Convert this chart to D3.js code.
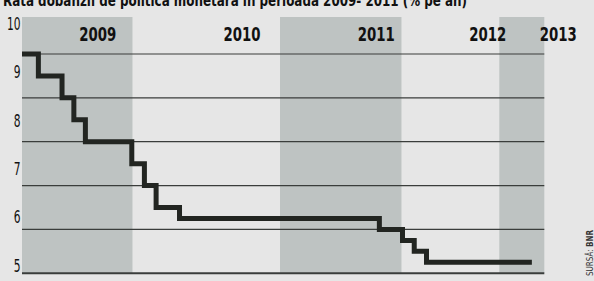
<!DOCTYPE html>
<html>
<head>
<meta charset="utf-8">
<script src="https://cdn.jsdelivr.net/npm/d3@7"></script>
<style>
  html, body { margin: 0; padding: 0; background: #e6e6e6; }
  svg { display: block; font-family: "DejaVu Sans Condensed", "Liberation Sans", sans-serif; }
</style>
</head>
<body>
<div id="chart"></div>
<script>
// rate changes (date of change, % pe an)
const changeDates = ["2009-01-01", "2009-02-24", "2009-05-13", "2009-06-21", "2009-07-29",
  "2009-12-29", "2010-01-30", "2010-02-28", "2010-04-27", "2011-10-26",
  "2012-01-04", "2012-02-17", "2012-04-03", "2013-05-12"];
const rates = [10, 9.5, 9, 8.5, 8, 7.5, 7, 6.5, 6.25, 6, 5.75, 5.5, 5.25, 5.25];

const years = ["2009", "2010", "2011", "2012", "2013"];
const yearLabelDates = ["2009-09-08", "2010-09-29", "2011-10-17", "2012-11-19", "2013-08-26"];
const yTicks = [10, 9, 8, 7, 6, 5];

const width = 594, height = 281;
const parse = d3.timeParse("%Y-%m-%d");

// the year bands are not equally wide in the original
const bandEdges = ["2009-01-01", "2010-01-01", "2011-01-01", "2012-01-01", "2013-01-01", "2013-07-01"].map(parse);
const x = d3.scaleTime()
  .domain(bandEdges)
  .range([22, 132.7, 280, 401.7, 499.3, 544.3]);
const y = d3.scaleLinear().domain([5, 10]).range([273.3, 54]);
// tick labels sit on their own evenly spaced scale
const yLab = d3.scaleLinear().domain([10, 5]).range([30, 271.6]);

const svg = d3.select("#chart").append("svg")
  .attr("width", width).attr("height", height);

svg.append("rect").attr("width", width).attr("height", height).attr("fill", "#e6e6e6");

// title (cut at the top edge, as in the print)
svg.append("text")
  .attr("x", 3).attr("y", 6)
  .attr("font-size", 16).attr("font-weight", "bold")
  .attr("fill", "#111")
  .attr("textLength", 464).attr("lengthAdjust", "spacingAndGlyphs")
  .text("Rata dobânzii de politică monetară în perioada 2009- 2011 (% pe an)");

// year bands
svg.append("g").selectAll("rect")
  .data(years)
  .join("rect")
  .attr("x", (d, i) => x(bandEdges[i]))
  .attr("y", 17)
  .attr("width", (d, i) => x(bandEdges[i + 1]) - x(bandEdges[i]))
  .attr("height", 273.3 - 17)
  .attr("fill", (d, i) => i % 2 === 0 ? "#bec3c2" : "#e6e6e6");

// grid lines
svg.append("g").selectAll("line")
  .data(yTicks)
  .join("line")
  .attr("x1", 22).attr("x2", 544.3)
  .attr("y1", d => y(d)).attr("y2", d => y(d))
  .attr("stroke", "#3a3d3b")
  .attr("stroke-width", d => d === 5 ? 2 : 1.2);

// y labels
svg.append("g").selectAll("text")
  .data(yTicks)
  .join("text")
  .attr("x", 20.5).attr("y", d => yLab(d))
  .attr("text-anchor", "end")
  .attr("font-size", 17)
  .attr("fill", "#111")
  .attr("textLength", d => String(d).length * 6.8)
  .attr("lengthAdjust", "spacingAndGlyphs")
  .text(d => d);

// year labels
svg.append("g").selectAll("text")
  .data(years)
  .join("text")
  .attr("x", (d, i) => x(parse(yearLabelDates[i])) - 18.5)
  .attr("y", 41)
  .attr("font-size", 19.5).attr("font-weight", "bold")
  .attr("fill", "#111")
  .attr("textLength", 37).attr("lengthAdjust", "spacingAndGlyphs")
  .text(d => d);

// step line
const data = changeDates.map((d, i) => ({date: parse(d), rate: rates[i]}));
const line = d3.line()
  .x(d => x(d.date))
  .y(d => y(d.rate))
  .curve(d3.curveStepAfter);

svg.append("path")
  .datum(data)
  .attr("d", line)
  .attr("fill", "none")
  .attr("stroke", "#222521")
  .attr("stroke-width", 5)
  .attr("stroke-linejoin", "miter")
  .attr("stroke-linecap", "butt");

// source
const src = svg.append("text")
  .attr("transform", "translate(593,230) rotate(-90)")
  .attr("text-anchor", "end")
  .attr("font-size", 8)
  .attr("fill", "#333");
src.append("tspan").text("SURSĂ: ");
src.append("tspan").attr("font-weight", "bold").text("BNR");
</script>
</body>
</html>
